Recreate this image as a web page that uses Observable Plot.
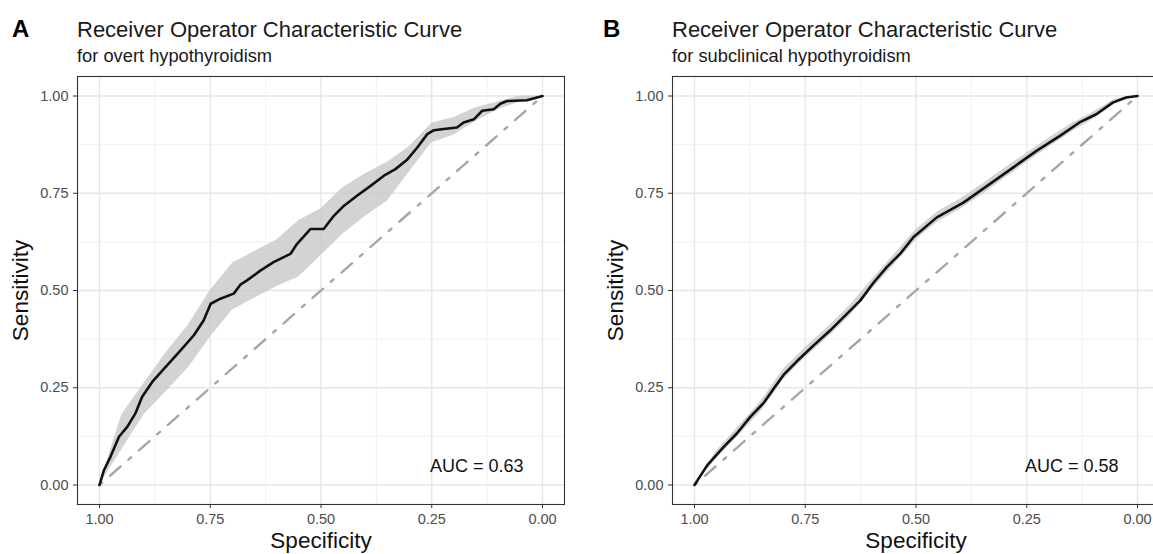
<!DOCTYPE html>
<html>
<head>
<meta charset="utf-8">
<script src="https://cdn.jsdelivr.net/npm/d3@7"></script>
<script src="https://cdn.jsdelivr.net/npm/@observablehq/plot@0.6"></script>
<style>
  html, body { margin: 0; padding: 0; background: #fff; }
  #wrap { position: relative; width: 1153px; height: 554px; overflow: hidden; background: #fff;
          font-family: "Liberation Sans", Arial, Helvetica, sans-serif; color: #1a1a1a; }
  .tag { position: absolute; font-size: 24px; font-weight: bold; line-height: 1; color: #000; }
  .title { position: absolute; font-size: 22px; line-height: 1; white-space: nowrap; }
  .sub { position: absolute; font-size: 18.3px; line-height: 1; white-space: nowrap; }
  .panel { position: absolute; top: 66px; width: 576px; height: 488px; }
  .panel svg { max-width: none !important; }
</style>
</head>
<body>
<div id="wrap">
  <div class="tag" style="left:12px;top:17px" id="tagA"></div>
  <div class="title" style="left:77px;top:19px" id="titleA"></div>
  <div class="sub" style="left:77px;top:47px" id="subA"></div>
  <div class="panel" style="left:0px" id="plotA"></div>
  <div class="tag" style="left:603px;top:17px" id="tagB"></div>
  <div class="title" style="left:672px;top:19px" id="titleB"></div>
  <div class="sub" style="left:672px;top:47px" id="subB"></div>
  <div class="panel" style="left:595px" id="plotB"></div>
</div>
<script>
// ---------- data ----------
const panelTags = ["A", "B"];
const panelTitles = ["Receiver Operator Characteristic Curve", "Receiver Operator Characteristic Curve"];
const panelSubtitles = ["for overt hypothyroidism", "for subclinical hypothyroidism"];
const aucLabels = ["AUC = 0.63", "AUC = 0.58"];
const xTitle = "Specificity";
const yTitle = "Sensitivity";
const axisTicks = [1, 0.75, 0.5, 0.25, 0];
const minorTicks = [0.875, 0.625, 0.375, 0.125];

// Panel A: ROC curve (specificity, sensitivity)
const specA = [1.000, 0.990, 0.975, 0.956, 0.937, 0.919, 0.904, 0.881, 0.847, 0.817, 0.787, 0.765, 0.749, 0.727, 0.697, 0.682, 0.667, 0.637, 0.607, 0.569, 0.554, 0.524, 0.501, 0.494, 0.471, 0.448, 0.418, 0.388, 0.358, 0.332, 0.305, 0.283, 0.260, 0.245, 0.223, 0.193, 0.178, 0.155, 0.136, 0.110, 0.095, 0.080, 0.035, 0.000];
const sensA = [0.000, 0.038, 0.073, 0.124, 0.150, 0.184, 0.226, 0.265, 0.308, 0.346, 0.385, 0.423, 0.466, 0.479, 0.492, 0.515, 0.526, 0.551, 0.573, 0.594, 0.620, 0.658, 0.658, 0.658, 0.692, 0.718, 0.744, 0.769, 0.795, 0.812, 0.837, 0.867, 0.902, 0.912, 0.915, 0.919, 0.932, 0.940, 0.962, 0.966, 0.980, 0.987, 0.989, 1.000];

// Panel B: ROC curve
const specB = [1.000, 0.971, 0.934, 0.904, 0.874, 0.844, 0.821, 0.799, 0.769, 0.731, 0.694, 0.656, 0.626, 0.596, 0.566, 0.536, 0.506, 0.453, 0.393, 0.333, 0.281, 0.228, 0.176, 0.131, 0.093, 0.056, 0.026, 0.000];
const sensB = [0.000, 0.051, 0.098, 0.133, 0.175, 0.211, 0.248, 0.283, 0.318, 0.359, 0.397, 0.440, 0.474, 0.520, 0.560, 0.594, 0.637, 0.688, 0.726, 0.774, 0.816, 0.859, 0.897, 0.932, 0.953, 0.983, 0.996, 1.000];

// Confidence bands (sensitivity CI at specificities)
const bandSpec = [1, 0.95, 0.9, 0.85, 0.8, 0.75, 0.7, 0.65, 0.6, 0.55, 0.5, 0.45, 0.4, 0.35, 0.3, 0.25, 0.2, 0.15, 0.1, 0.05, 0];
const loA = [0, 0.09, 0.18, 0.24, 0.30, 0.38, 0.45, 0.48, 0.51, 0.535, 0.59, 0.645, 0.69, 0.73, 0.805, 0.88, 0.90, 0.935, 0.965, 0.985, 1.0];
const hiA = [0, 0.18, 0.26, 0.34, 0.41, 0.50, 0.57, 0.60, 0.63, 0.68, 0.71, 0.765, 0.80, 0.83, 0.87, 0.93, 0.945, 0.97, 0.985, 1.0, 1.0];
const loB = [0, 0.068, 0.127, 0.189, 0.270, 0.327, 0.378, 0.434, 0.501, 0.565, 0.630, 0.677, 0.709, 0.747, 0.788, 0.829, 0.868, 0.906, 0.940, 0.980, 1];
const hiB = [0, 0.088, 0.151, 0.215, 0.296, 0.353, 0.404, 0.460, 0.527, 0.591, 0.656, 0.703, 0.735, 0.773, 0.814, 0.853, 0.892, 0.928, 0.958, 0.992, 1];

// Chance line
const chanceSpec = [1, 0];
const chanceSens = [0, 1];

// ---------- drawing ----------
const fmt = d3.format(".2f");
function panel(spec, sens, lo, hi, auc) {
  return Plot.plot({
    width: 576, height: 488,
    marginLeft: 77, marginRight: 12, marginTop: 10, marginBottom: 50,
    style: {fontFamily: '"Liberation Sans", Arial, Helvetica, sans-serif', background: "transparent", overflow: "visible", maxWidth: "none"},
    x: {domain: [1, 0], insetLeft: 22, insetRight: 22},
    y: {domain: [0, 1], insetTop: 19.5, insetBottom: 19.5},
    marks: [
      Plot.gridX(minorTicks, {stroke: "#efefef", strokeOpacity: 1, strokeWidth: 0.9}),
      Plot.gridY(minorTicks, {stroke: "#efefef", strokeOpacity: 1, strokeWidth: 0.9}),
      Plot.gridX(axisTicks, {stroke: "#e6e6e6", strokeOpacity: 1, strokeWidth: 1.4}),
      Plot.gridY(axisTicks, {stroke: "#e6e6e6", strokeOpacity: 1, strokeWidth: 1.4}),
      Plot.areaY(bandSpec, {x: bandSpec, y1: lo, y2: hi, fill: "#c8c8c8", fillOpacity: 0.8}),
      Plot.line(chanceSpec, {x: chanceSpec, y: chanceSens, stroke: "#a6a6a6", strokeWidth: 2.4, strokeDasharray: "3.5,10.5,14,10.5"}),
      Plot.line(spec, {x: spec, y: sens, stroke: "#111", strokeWidth: 2.6, strokeLinejoin: "round"}),
      Plot.frame({stroke: "#333", strokeWidth: 1.1}),
      Plot.axisX(axisTicks, {tickFormat: fmt, tickSize: 4, tickPadding: 5, fontSize: 14.5, fill: "#4d4d4d", stroke: "#333", label: null}),
      Plot.axisY(axisTicks, {tickFormat: fmt, tickSize: 4, tickPadding: 5, fontSize: 14.5, fill: "#4d4d4d", stroke: "#333", label: null}),
      Plot.text([xTitle], {frameAnchor: "bottom", textAnchor: "middle", lineAnchor: "middle", dy: 36, fontSize: 22.5, fill: "#111"}),
      Plot.text([yTitle], {frameAnchor: "left", textAnchor: "middle", lineAnchor: "middle", dx: -57, rotate: -90, fontSize: 22.5, fill: "#111"}),
      Plot.text([auc], {frameAnchor: "bottom-right", textAnchor: "end", lineAnchor: "middle", dx: -41, dy: -38, fontSize: 18, fill: "#111"})
    ]
  });
}

document.getElementById("tagA").textContent = panelTags[0];
document.getElementById("titleA").textContent = panelTitles[0];
document.getElementById("subA").textContent = panelSubtitles[0];
document.getElementById("tagB").textContent = panelTags[1];
document.getElementById("titleB").textContent = panelTitles[1];
document.getElementById("subB").textContent = panelSubtitles[1];
document.getElementById("plotA").appendChild(panel(specA, sensA, loA, hiA, aucLabels[0]));
document.getElementById("plotB").appendChild(panel(specB, sensB, loB, hiB, aucLabels[1]));
</script>
</body>
</html>
